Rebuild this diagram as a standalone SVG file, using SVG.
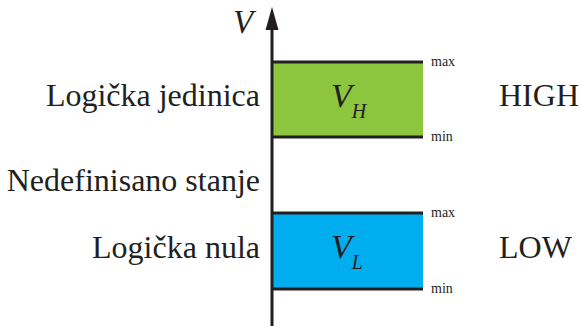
<svg xmlns="http://www.w3.org/2000/svg" width="581" height="326" viewBox="0 0 581 326">
<style>
text{font-family:'Liberation Serif','DejaVu Serif',serif;fill:#231f20}
.lbl{font-size:32px}
.sm{font-size:14px}
.it{font-style:italic}
.edge{stroke:#231f20;stroke-width:3;fill:none}
</style>
<g id="high-band">
<rect x="272" y="62" width="151" height="75" fill="#8cc63f"/>
<line class="edge" x1="272" y1="62" x2="423" y2="62"/>
<line class="edge" x1="272" y1="137" x2="423" y2="137"/>
<text class="it" x="331" y="107" font-size="34">V<tspan font-size="20" dy="11">H</tspan></text>
<text class="sm" x="431" y="66">max</text>
<text class="sm" x="431" y="141">min</text>
</g>
<g id="low-band">
<rect x="272" y="213" width="151" height="76" fill="#00aeef"/>
<line class="edge" x1="272" y1="213" x2="423" y2="213"/>
<line class="edge" x1="272" y1="289" x2="423" y2="289"/>
<text class="it" x="331" y="258" font-size="34">V<tspan font-size="20" dy="11">L</tspan></text>
<text class="sm" x="431" y="217">max</text>
<text class="sm" x="431" y="293">min</text>
</g>
<g id="axis">
<line class="edge" x1="272" y1="326" x2="272" y2="26"/>
<polygon points="272,7 265.5,30 278.5,30" fill="#231f20"/>
<text class="it" x="233" y="33" font-size="33">V</text>
</g>
<g id="labels">
<text class="lbl" x="260" y="106" text-anchor="end">Logička jedinica</text>
<text class="lbl" x="260" y="191" text-anchor="end">Nedefinisano stanje</text>
<text class="lbl" x="260" y="258" text-anchor="end">Logička nula</text>
<text class="lbl" x="499" y="106">HIGH</text>
<text class="lbl" x="499" y="258">LOW</text>
</g>
</svg>
